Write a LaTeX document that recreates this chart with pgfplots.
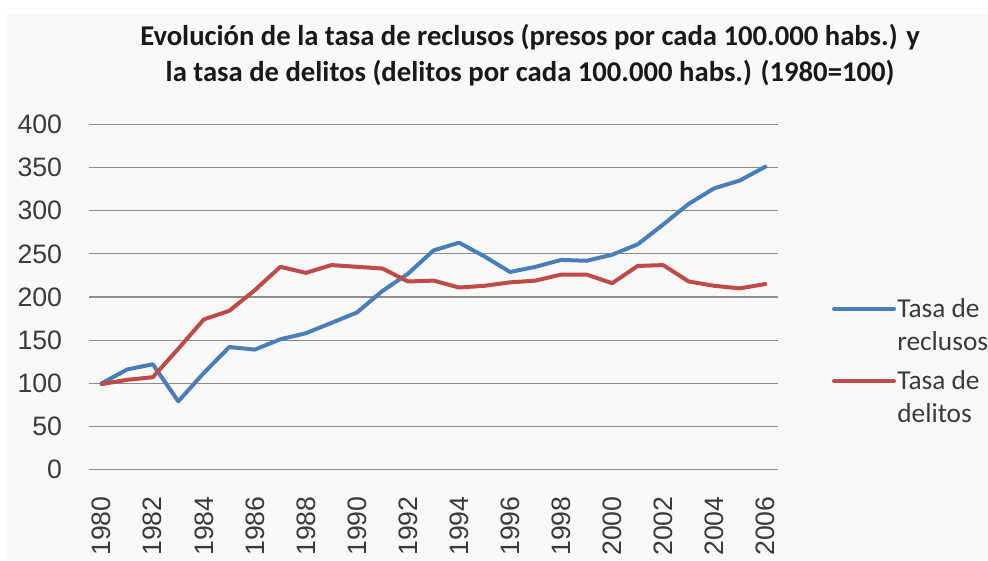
\documentclass[border=0pt]{standalone}
\usepackage{fontspec}
\setmainfont{Carlito}
\newfontfamily\arialf{Liberation Sans}
\usepackage{pgfplots}
\pgfplotsset{compat=1.18}
\definecolor{blueL}{HTML}{4A7EBB}
\definecolor{redL}{HTML}{BE4B48}
\definecolor{gridc}{HTML}{8C8C8C}
\definecolor{txt}{HTML}{3A3A3A}
\definecolor{bg}{HTML}{F9F9F9}
\begin{document}
\begin{tikzpicture}
\useasboundingbox (-66.75pt,-67.875pt) rectangle (674.25pt,352.125pt);
\fill[bg] (-61.5pt,-67.875pt) rectangle (674.25pt,342.375pt);
\begin{axis}[
  at={(0pt,0pt)}, anchor=south west, scale only axis,
  width=516.75pt, height=258.75pt,
  xmin=1979.5, xmax=2006.5, ymin=0, ymax=400,
  xtick={1980,1982,...,2006}, ytick={0,50,...,400},
  axis line style={draw=none},
  major tick length=0pt,
  ymajorgrids, grid style={gridc, line width=0.9pt},
  tick label style={font=\arialf\fontsize{20}{24}\selectfont, text=txt},
  /pgf/number format/assume math mode=true,
  xticklabel style={/pgf/number format/1000 sep={}, yshift=-20pt, rotate=90, anchor=east, inner sep=0pt},
  yticklabel style={xshift=-20pt, anchor=east, inner sep=0pt},
  legend style={draw=none, fill=none, inner sep=0pt, at={(1.078,0.50)}, anchor=north west,
    nodes={align=left, text=txt, font=\fontsize{20.5}{24.75}\selectfont, inner sep=1pt}, row sep=11.5pt},
  legend cell align=left,
  legend image code/.code={\draw[#1] (0pt,12.4pt) -- (45pt,12.4pt);},
  every axis plot/.append style={line width=3pt, line join=round, line cap=round},
]
\addplot[blueL] coordinates {
(1980,100) (1981,116) (1982,122) (1983,79) (1984,112) (1985,142) (1986,139)
(1987,151) (1988,158) (1989,170) (1990,182) (1991,207) (1992,227) (1993,254)
(1994,263) (1995,247) (1996,229) (1997,235) (1998,243) (1999,242) (2000,249)
(2001,261) (2002,284) (2003,308) (2004,326) (2005,335) (2006,351)};
\addlegendentry{Tasa de\\reclusos}
\addplot[redL] coordinates {
(1980,99) (1981,104) (1982,107) (1983,140) (1984,174) (1985,184) (1986,208)
(1987,235) (1988,228) (1989,237) (1990,235) (1991,233) (1992,218) (1993,219)
(1994,211) (1995,213) (1996,217) (1997,219) (1998,226) (1999,226) (2000,216)
(2001,236) (2002,237) (2003,218) (2004,213) (2005,210) (2006,215)};
\addlegendentry{Tasa de\\delitos}
\end{axis}
\node[align=center, font=\bfseries\fontsize{21.5}{27}\selectfont, text=black!90] at (330.75pt,310.9pt)
  {Evolución de la tasa de reclusos (presos por cada 100.000 habs.) y\\la tasa de delitos (delitos por cada 100.000 habs.) (1980=100)};
\end{tikzpicture}
\end{document}
